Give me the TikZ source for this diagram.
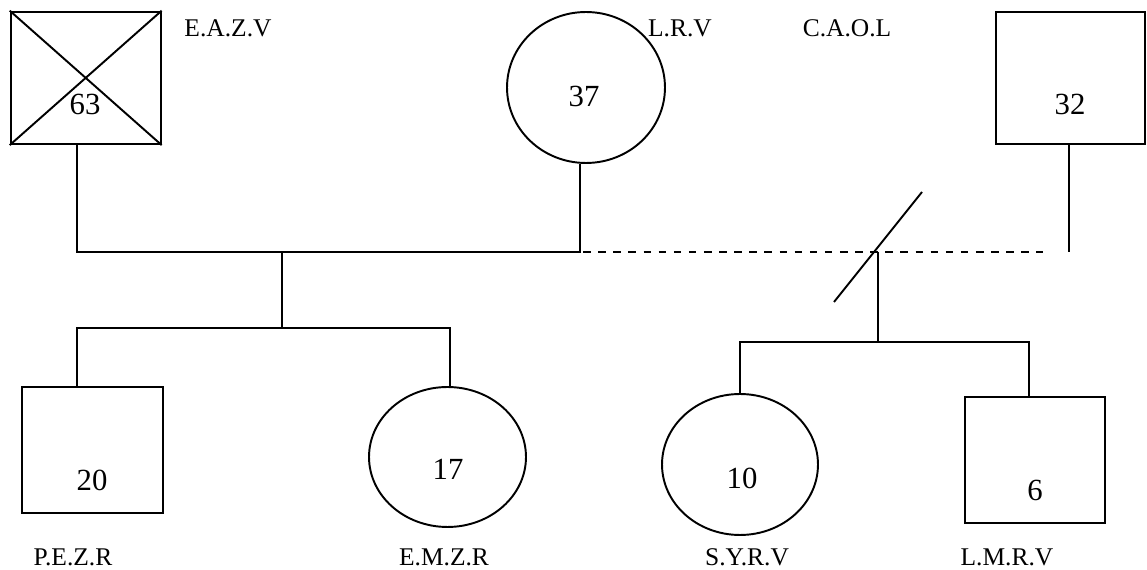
\documentclass[tikz,border=0pt]{standalone}
\usepackage{fontspec}
\setmainfont{Liberation Serif}
\usetikzlibrary{shapes.geometric}

\begin{document}
\begin{tikzpicture}[x=0.02cm,y=-0.02cm]
		\tikzstyle{male}=[draw,line width=1.1pt,rectangle,inner sep=0pt]
		\tikzstyle{female}=[draw,line width=1.1pt,ellipse,inner sep=0pt]
		\tikzstyle{age}=[anchor=base,inner sep=0pt,font=\fontsize{17.5}{21}\selectfont]
		\tikzstyle{initials}=[anchor=base,inner sep=0pt,font=\fontsize{14.5}{17}\selectfont]
		\tikzstyle{link}=[draw,line width=1.1pt]
		\useasboundingbox (0,0) rectangle (1147,570);

		\node (eazv) at (85.7,77.9) [male,minimum width=3cm,minimum height=2.65cm] {};
		\node (lrv) at (586,87.5) [female,minimum width=3.16cm,minimum height=3.02cm] {};
		\node (caol) at (1070.5,78) [male,minimum width=2.98cm,minimum height=2.64cm] {};
		\node (pezr) at (92.5,450) [male,minimum width=2.82cm,minimum height=2.52cm] {};
		\node (emzr) at (447.5,457) [female,minimum width=3.14cm,minimum height=2.8cm] {};
		\node (syrv) at (740,464.5) [female,minimum width=3.12cm,minimum height=2.82cm] {};
		\node (lmrv) at (1035,460) [male,minimum width=2.8cm,minimum height=2.52cm] {};

		\draw[link] (eazv.north west) -- (eazv.south east);
		\draw[link] (eazv.south west) -- (eazv.north east);

		\node (eazv-age) at (85,115) [age] {63};
		\node (lrv-age) at (584,107) [age] {37};
		\node (caol-age) at (1070,115) [age] {32};
		\node (pezr-age) at (92,491) [age] {20};
		\node (emzr-age) at (448,480) [age] {17};
		\node (syrv-age) at (742,489) [age] {10};
		\node (lmrv-age) at (1035,501) [age] {6};

		\node (eazv-name) at (228,37) [initials] {E.A.Z.V};
		\node (lrv-name) at (680,37) [initials] {L.R.V};
		\node (caol-name) at (847,37) [initials] {C.A.O.L};
		\node (pezr-name) at (73,566) [initials] {P.E.Z.R};
		\node (emzr-name) at (444,566) [initials] {E.M.Z.R};
		\node (syrv-name) at (747,566) [initials] {S.Y.R.V};
		\node (lmrv-name) at (1007,566) [initials] {L.M.R.V};

		\coordinate (union) at (282,252);
		\coordinate (sibs) at (282,328);
		\coordinate (sep0) at (568,252);
		\coordinate (sep1) at (1043,252);
		\coordinate (caol-end) at (1069,252);
		\coordinate (split) at (878,252);
		\coordinate (sibs2) at (878,342);
		\coordinate (cut1) at (834,302);
		\coordinate (cut2) at (922,192);

		\draw[link] (eazv.south -| 77,0) |- (union) -| (lrv.south -| 580,0);
		\draw[link] (union) -- (sibs);
		\draw[link] (pezr.north -| 77,0) |- (sibs) -| (emzr.north -| 450,0);

		\draw[link,dash pattern=on 4.3pt off 4.3pt] (sep0) -- (sep1);
		\draw[link] (caol.south -| 1069,0) -- (caol-end);
		\draw[link] (cut1) -- (cut2);

		\draw[link] (split) -- (sibs2);
		\draw[link] (syrv.north) |- (sibs2) -| (lmrv.north -| 1029,0);
	\end{tikzpicture}
\end{document}
